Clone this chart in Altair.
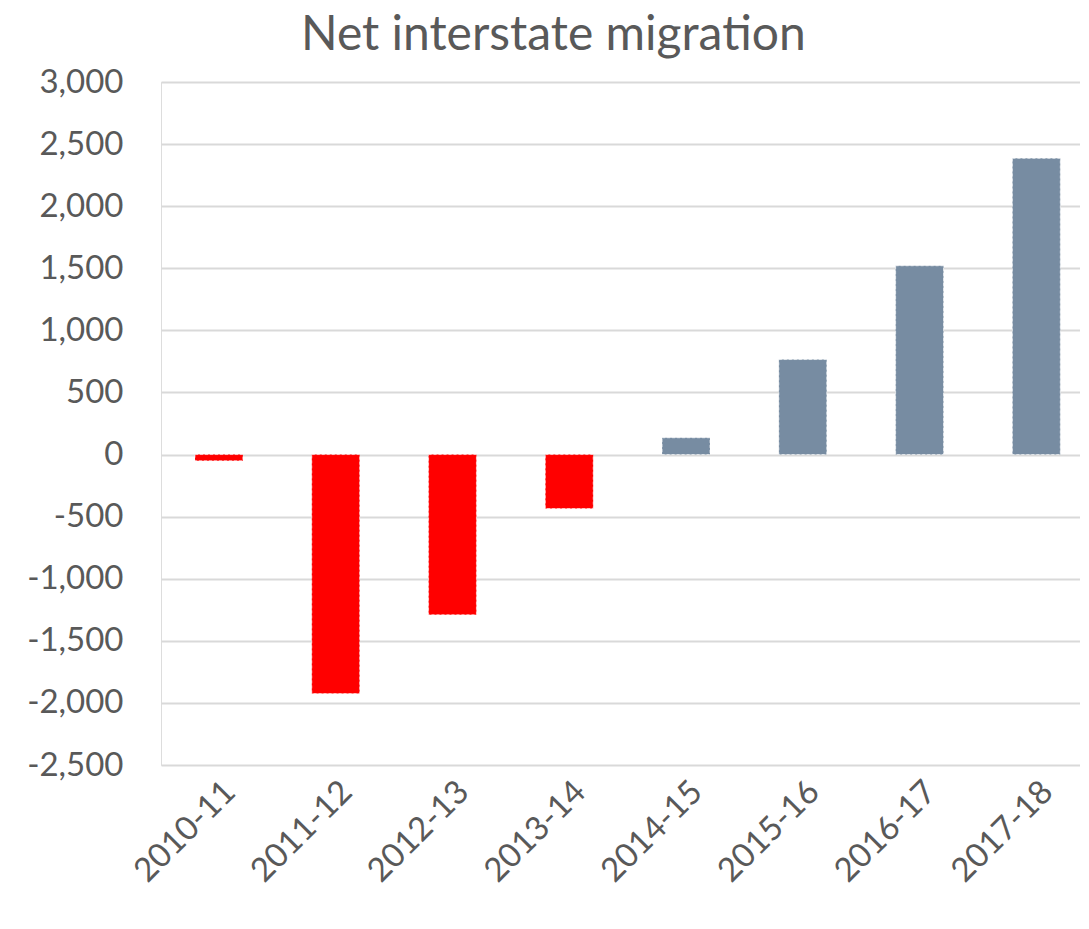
import altair as alt
import pandas as pd

years = ["2010-11", "2011-12", "2012-13", "2013-14", "2014-15", "2015-16", "2016-17", "2017-18"]
values = [-50, -1925, -1290, -435, 135, 765, 1520, 2385]
colors = ["#FF0000", "#FF0000", "#FF0000", "#FF0000", "#778CA2", "#778CA2", "#778CA2", "#778CA2"]

df = pd.DataFrame({"year": years, "value": values, "color": colors})

FONT = "Lato"
GREY = "#595959"

chart = alt.Chart(df).mark_bar(
    stroke="white", strokeOpacity=0.6, strokeWidth=1, strokeDash=[3, 2]
).encode(
    x=alt.X("year:N", sort=years, title=None,
            scale=alt.Scale(paddingInner=0.59, paddingOuter=0.23, align=0.633),
            axis=alt.Axis(labelAngle=-45, labelFontSize=33, labelColor=GREY, labelFont=FONT,
                          ticks=False, domain=False, labelPadding=10)),
    y=alt.Y("value:Q", title=None,
            scale=alt.Scale(domain=[-2500, 3000], nice=False, zero=False),
            axis=alt.Axis(values=list(range(-2500, 3001, 500)),
                          labelExpr="replace(format(datum.value, ','), '\u2212', '-')",
                          labelFontSize=33, labelColor=GREY, labelFont=FONT,
                          ticks=False, domain=False, gridColor="#D9D9D9", gridWidth=2,
                          labelPadding=38)),
    color=alt.Color("color:N", scale=None),
).properties(
    width=919, height=683,
    title=alt.TitleParams("Net interstate migration", fontSize=48, font=FONT,
                          color=GREY, fontWeight="normal", anchor="middle",
                          frame="bounds", offset=6)
).configure_view(stroke=None).configure(padding={"left": 18, "top": 4, "right": 0, "bottom": 5})

chart.save("out.html", embed_options={"renderer": "svg", "actions": False})
